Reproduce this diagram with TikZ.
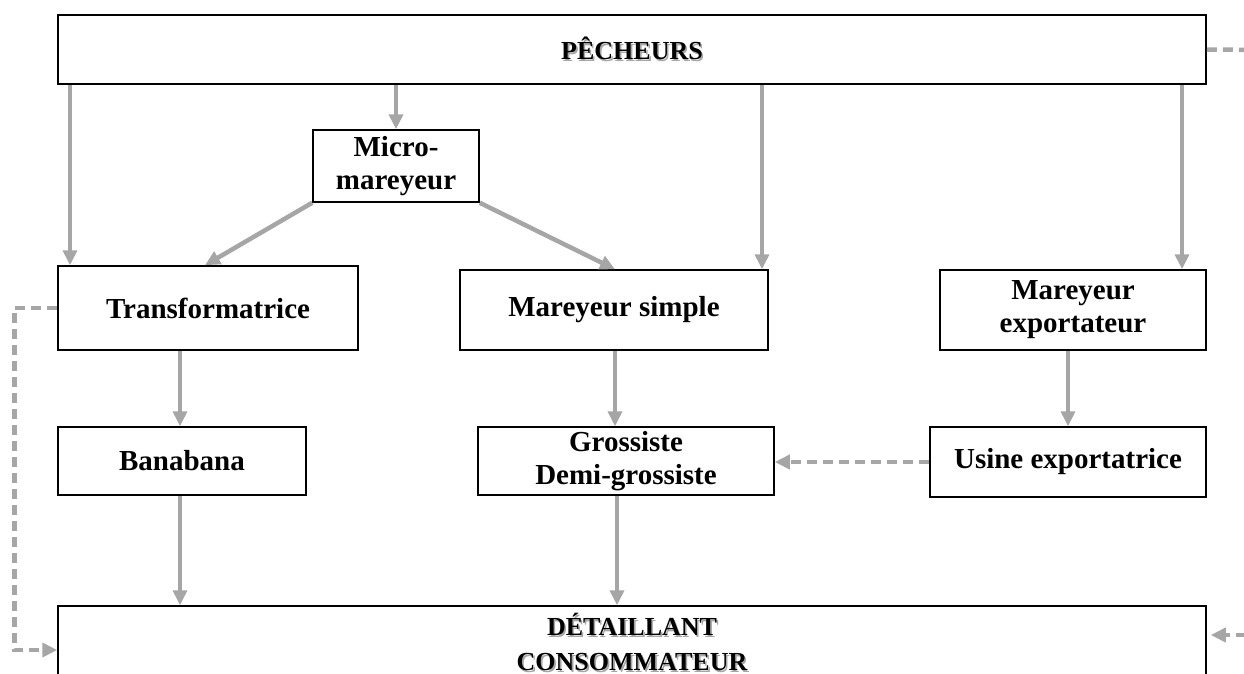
\documentclass[tikz,border=0pt]{standalone}
\usepackage{fontspec}
\setmainfont{Liberation Serif}
\usetikzlibrary{arrows.meta}
\definecolor{gristrait}{RGB}{166,166,166}
\newcommand{\relief}[1]{\makebox[0pt][l]{\hspace{1.6pt}\raisebox{-1.6pt}{\color{gristrait}#1}}#1}

\begin{document}
\begin{tikzpicture}[x=1pt,y=-1pt]
  \tikzstyle{acteur}=[draw=black,line width=1.5pt,inner sep=0pt,align=center,
    font=\fontsize{29}{33}\selectfont\bfseries]
  \tikzstyle{bout}=[acteur,font=\fontsize{26}{35}\selectfont\bfseries]
  \tikzstyle{fleche}=[draw=gristrait,line width=4.5pt,-{Triangle[length=15pt,width=14pt]}]
  \tikzstyle{pointille}=[fleche,dash pattern=on 10pt off 6pt]

  \useasboundingbox (0,0) rectangle (1244,673);
  \clip (0,0) rectangle (1244,673);

  % les acteurs
  \node[bout,minimum width=1148,minimum height=69] (peche) at (632,49.5) {\relief{PÊCHEURS}};
  \node[acteur,minimum width=166,minimum height=72] (micro) at (396,166) {Micro-\\mareyeur};
  \node[acteur,minimum width=300,minimum height=84] (trans) at (208,308) {Transformatrice};
  \node[acteur,minimum width=308,minimum height=80] (simple) at (614,310) {Mareyeur simple};
  \node[acteur,minimum width=266,minimum height=80] (export) at (1073,310) {Mareyeur\\exportateur};
  \node[acteur,minimum width=248,minimum height=68] (bana) at (182,461) {Banabana};
  \node[acteur,minimum width=296,minimum height=68] (gross) at (626,461) {Grossiste\\Demi-grossiste};
  \node[acteur,minimum width=276,minimum height=70] (usine) at (1068,462) {Usine exportatrice};
  \node[bout,minimum width=1148,minimum height=74] (detail) at (632,643)
    {\relief{DÉTAILLANT}\\\relief{CONSOMMATEUR}};

  \coordinate (horsA) at (1262,50);
  \coordinate (horsB) at (1262,635);

  % flux pleins
  \foreach \x/\dest in {70/trans,396/micro,762/simple,1182/export}
    \draw[fleche] (peche.south -| \x,0) -- (\dest.north -| \x,0);

  \draw[fleche] (micro.south west) -- (trans.north -| 205,0);
  \draw[fleche] (micro.south east) -- (simple.north -| 615,0);

  \draw[fleche] (trans.south -| 180,0) -- (bana.north -| 180,0);
  \draw[fleche] (simple.south -| 615,0) -- (gross.north -| 615,0);
  \draw[fleche] (export.south -| 1068,0) -- (usine.north -| 1068,0);

  \draw[fleche] (bana.south -| 180,0) -- (detail.north -| 180,0);
  \draw[fleche] (gross.south -| 617,0) -- (detail.north -| 617,0);

  % flux en pointilles
  \draw[pointille] (usine.west) -- (gross.east |- usine.west);
  \draw[pointille] (trans.west) -- ++(-43,0) |- ([yshift=-7pt]detail.west);
  \draw[pointille,-] (peche.east) -- (horsA);
  \draw[pointille,shorten >=4pt] (horsB) -- ([yshift=8pt]detail.east);
\end{tikzpicture}
\end{document}
